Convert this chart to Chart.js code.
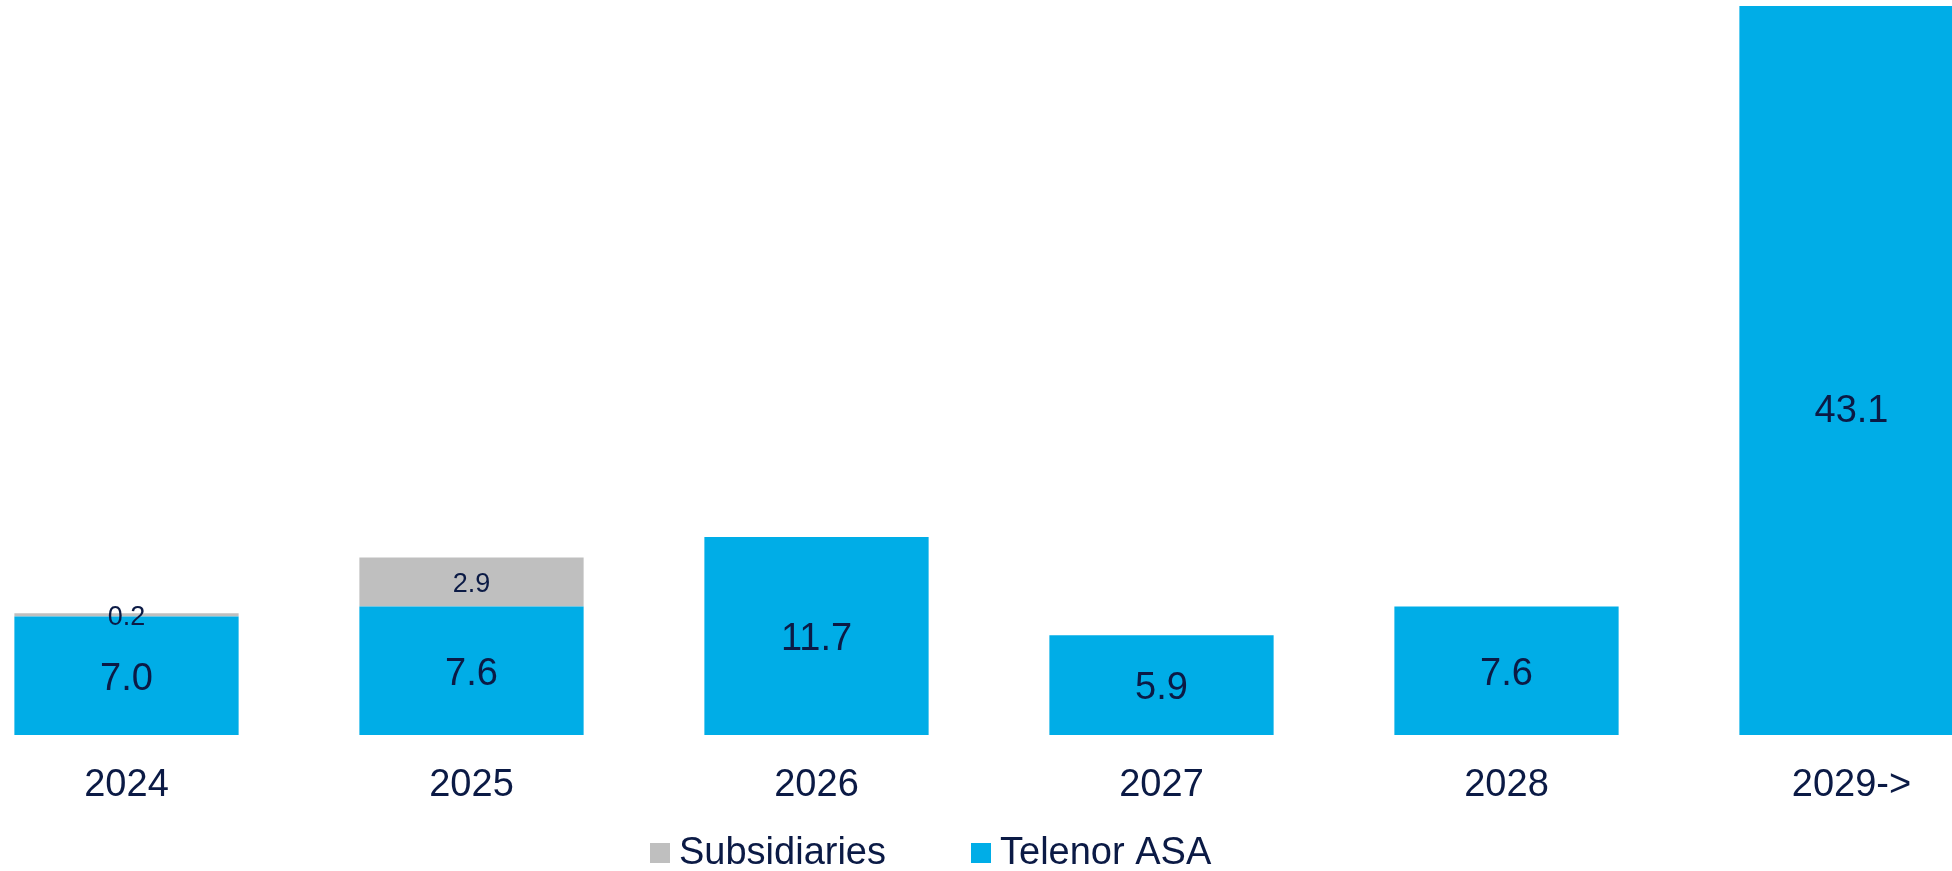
<!DOCTYPE html>
<html>
<head>
<meta charset="utf-8">
<script src="https://cdn.jsdelivr.net/npm/chart.js@4.4.1/dist/chart.umd.min.js"></script>
<style>
    html, body { margin: 0; padding: 0; background: #fff; overflow: hidden; }
    #wrap { position: relative; width: 1952px; height: 871px; overflow: hidden; }
    #wrap canvas { position: absolute; left: -46px; top: 0; }
</style>
</head>
<body>
<div id="wrap">
    <canvas id="maturity-chart" width="2070" height="871"></canvas>
</div>
<script>
// Debt maturity profile (NOK bn)
const years = ['2024', '2025', '2026', '2027', '2028', '2029->'];
const telenorAsa = [7.0, 7.6, 11.7, 5.9, 7.6, 43.1];
const subsidiaries = [0.2, 2.9, 0, 0, 0, 0];

const BLUE = '#00ade7';
const GREY = '#bfbfbf';
const NAVY = '#0b1a45';
const FONT = "'Liberation Sans', Arial, sans-serif";

const totals = years.map((_, i) => telenorAsa[i] + subsidiaries[i]);

// Value labels drawn in the middle of each bar segment
// (very tall segments keep their label a bit lower down)
const segmentLabels = {
    id: 'segmentLabels',
    afterDatasetsDraw(chart, args, opts) {
        const ctx = chart.ctx;
        ctx.save();
        ctx.fillStyle = NAVY;
        ctx.textAlign = 'center';
        ctx.textBaseline = 'middle';
        chart.data.datasets.forEach((ds, di) => {
            const meta = chart.getDatasetMeta(di);
            ctx.font = `${ds.labelSize}px ${FONT}`;
            meta.data.forEach((bar, i) => {
                const v = ds.data[i];
                if (!v) return;
                const { x, y, base } = bar.getProps(['x', 'y', 'base'], true);
                let ly = (y + base) / 2;
                if (base - ly > opts.maxRise) ly = base - opts.maxRise;
                ctx.fillText(v.toFixed(1), x, ly + ds.labelSize * 0.1);
            });
        });
        ctx.restore();
    }
};

// Legend row under the axis: Subsidiaries first, then Telenor ASA
const legendRow = {
    id: 'legendRow',
    afterDraw(chart) {
        const ctx = chart.ctx;
        const items = chart.data.datasets.slice().reverse();
        ctx.save();
        ctx.font = `38px ${FONT}`;
        ctx.textBaseline = 'middle';
        ctx.textAlign = 'left';
        let x = 696;
        const cy = 853;
        items.forEach(ds => {
            ctx.fillStyle = ds.backgroundColor;
            ctx.fillRect(x, cy - 10, 20, 20);
            ctx.fillStyle = NAVY;
            ctx.fillText(ds.label, x + 29, cy + 1);
            x += 29 + ctx.measureText(ds.label).width + 85;
        });
        ctx.restore();
    }
};

const chart = new Chart(document.getElementById('maturity-chart').getContext('2d'), {
    type: 'bar',
    data: {
        labels: years,
        datasets: [
            {
                label: 'Telenor ASA',
                data: telenorAsa,
                backgroundColor: BLUE,
                labelSize: 38
            },
            {
                label: 'Subsidiaries',
                data: subsidiaries,
                backgroundColor: GREY,
                labelSize: 27
            }
        ]
    },
    options: {
        responsive: false,
        animation: false,
        events: [],
        layout: { padding: { top: 6, left: 0, right: 0, bottom: 0 } },
        datasets: {
            bar: { categoryPercentage: 1, barPercentage: 0.65, borderWidth: 0 }
        },
        plugins: {
            legend: { display: false },
            tooltip: { enabled: false },
            segmentLabels: { maxRise: 327 }
        },
        scales: {
            x: {
                stacked: true,
                grid: { display: false, drawTicks: false },
                border: { display: false },
                ticks: {
                    color: NAVY,
                    padding: 28,
                    font: { family: FONT, size: 38 }
                },
                afterFit(axis) { axis.height = 136; }
            },
            y: {
                stacked: true,
                display: false,
                min: 0,
                max: Math.max(...totals)
            }
        }
    },
    plugins: [segmentLabels, legendRow]
});
</script>
</body>
</html>
